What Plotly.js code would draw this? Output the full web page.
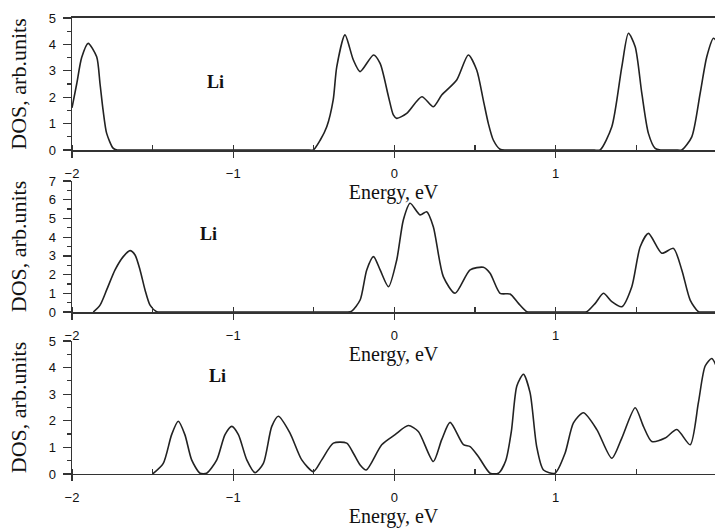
<!DOCTYPE html>
<html>
<head>
<meta charset="utf-8">
<script src="https://cdn.plot.ly/plotly-3.0.1.min.js"></script>
<style>html,body{margin:0;padding:0;background:#fff;}#chart{width:715px;height:529px;}</style>
</head>
<body>
<div id="chart"></div>
<script>
// Panel 1 (top)
const energy1 = [-2.0, -1.971, -1.94, -1.9, -1.847, -1.826, -1.807, -1.785, -1.745, -1.72, -1.68, -1.6, -1.0, -0.6, -0.54, -0.504, -0.46, -0.42, -0.38, -0.358, -0.307, -0.255, -0.213, -0.13, -0.089, -0.037, -0.007, 0.014, 0.076, 0.17, 0.241, 0.293, 0.386, 0.458, 0.51, 0.551, 0.582, 0.613, 0.655, 0.69, 0.75, 1.0, 1.2, 1.24, 1.275, 1.348, 1.41, 1.451, 1.493, 1.534, 1.575, 1.617, 1.65, 1.7, 1.745, 1.782, 1.844, 1.896, 1.937, 1.978, 2.0];
const dos1    = [1.6, 2.5, 3.5, 4.04, 3.53, 2.5, 1.5, 0.63, 0.07, 0, 0, 0, 0, 0, 0, 0, 0.38, 0.88, 1.9, 3.15, 4.36, 3.41, 2.97, 3.6, 3.28, 2.02, 1.33, 1.2, 1.39, 2.02, 1.64, 2.08, 2.65, 3.6, 3.03, 1.89, 1.01, 0.38, 0.03, 0, 0, 0, 0, 0, 0, 0.88, 3.15, 4.42, 3.91, 2.15, 0.63, 0.06, 0, 0, 0, 0, 0.5, 2.15, 3.53, 4.23, 4.1];
// Panel 2 (middle)
const energy2 = [-1.868, -1.826, -1.785, -1.733, -1.682, -1.64, -1.609, -1.578, -1.547, -1.516, -1.475, -1.44, -1.4, -0.8, -0.32, -0.29, -0.265, -0.213, -0.172, -0.13, -0.089, -0.037, 0.014, 0.055, 0.097, 0.159, 0.2, 0.241, 0.303, 0.376, 0.469, 0.551, 0.593, 0.655, 0.717, 0.769, 0.82, 0.85, 0.88, 1.1, 1.15, 1.193, 1.245, 1.296, 1.348, 1.41, 1.472, 1.524, 1.575, 1.658, 1.73, 1.782, 1.834, 1.885, 1.92, 1.96, 2.0];
const dos2    = [0, 0.37, 1.18, 2.25, 2.96, 3.28, 3.05, 2.25, 1.18, 0.37, 0.02, 0, 0, 0, 0, 0, 0.05, 0.64, 2.25, 2.96, 2.25, 1.35, 2.78, 4.92, 5.81, 5.19, 5.36, 4.56, 1.89, 1.0, 2.25, 2.39, 2.07, 1.0, 0.96, 0.46, 0.02, 0, 0, 0, 0, 0.02, 0.46, 1.0, 0.55, 0.28, 1.35, 3.49, 4.2, 3.14, 3.4, 2.25, 0.64, 0.02, 0, 0, 0];
// Panel 3 (bottom)
const energy3 = [-1.5, -1.434, -1.382, -1.341, -1.3, -1.258, -1.206, -1.165, -1.102, -1.051, -1.009, -0.968, -0.916, -0.865, -0.813, -0.761, -0.72, -0.648, -0.575, -0.503, -0.451, -0.379, -0.296, -0.255, -0.213, -0.175, -0.079, 0.004, 0.086, 0.148, 0.241, 0.293, 0.345, 0.428, 0.469, 0.52, 0.593, 0.645, 0.69, 0.725, 0.759, 0.8, 0.841, 0.882, 0.924, 0.996, 1.058, 1.11, 1.172, 1.255, 1.348, 1.41, 1.493, 1.544, 1.596, 1.679, 1.751, 1.834, 1.885, 1.927, 1.968, 2.0];
const dos3    = [0, 0.4, 1.48, 1.98, 1.48, 0.53, 0.03, 0.03, 0.53, 1.48, 1.79, 1.48, 0.53, 0.05, 0.4, 1.79, 2.17, 1.54, 0.53, 0.09, 0.53, 1.16, 1.16, 0.78, 0.34, 0.15, 1.1, 1.48, 1.82, 1.6, 0.47, 1.29, 1.94, 1.1, 1.03, 0.66, 0.03, 0.03, 0.5, 1.6, 3.31, 3.75, 3.06, 1.03, 0.15, 0.03, 0.78, 1.92, 2.3, 1.67, 0.59, 1.35, 2.49, 1.79, 1.22, 1.35, 1.67, 1.1, 2.68, 4.06, 4.34, 4.0];

const panelLabel = 'Li';
const xTitle = 'Energy, eV';
const yTitle = 'DOS, arb.units';

const lineStyle = {color: '#222', width: 1.6, shape: 'spline', smoothing: 0.7};
const traces = [
  {x: energy1, y: dos1, xaxis: 'x', yaxis: 'y'},
  {x: energy2, y: dos2, xaxis: 'x2', yaxis: 'y2'},
  {x: energy3, y: dos3, xaxis: 'x3', yaxis: 'y3'}
].map(t => Object.assign(t, {type: 'scatter', mode: 'lines', line: lineStyle, hoverinfo: 'skip', showlegend: false}));

const tickFont = {family: 'Liberation Sans, Arial, sans-serif', size: 13, color: '#111'};
const titleFont = {family: 'Liberation Serif, Times New Roman, serif', size: 20, color: '#111'};

function xAxis(anchor, mirror) {
  return {
    anchor: anchor, domain: [0, 1], range: [-2, 1.988],
    showline: true, linecolor: '#333', linewidth: 1.5, mirror: mirror,
    ticks: 'outside', ticklen: 6, tickwidth: 1.3, tickcolor: '#333',
    tick0: 0, dtick: 1, ticklabelstandoff: 5,
    minor: {dtick: 0.5, ticks: 'inside', ticklen: 5, tickwidth: 1.2, tickcolor: '#333'},
    showgrid: false, zeroline: false, tickfont: tickFont, automargin: false,
    title: {text: xTitle, font: titleFont, standoff: 1}
  };
}
function yAxis(anchor, domain, range) {
  return {
    anchor: anchor, domain: domain, range: range,
    showline: true, linecolor: '#333', linewidth: 1.5,
    ticks: 'outside', ticklen: 8, tickwidth: 1.3, tickcolor: '#333',
    tick0: 0, dtick: 1, ticklabelstandoff: 4,
    minor: {dtick: 0.5, ticks: 'outside', ticklen: 4, tickwidth: 1.2, tickcolor: '#333'},
    showgrid: false, zeroline: false, tickfont: tickFont, automargin: false,
    title: {text: yTitle, font: {family: titleFont.family, size: 22, color: '#111'}, standoff: 16}
  };
}

const liFont = {family: 'Liberation Serif, Times New Roman, serif', size: 18, color: '#111', weight: 'bold'};
const layout = {
  width: 715, height: 529,
  margin: {l: 72, r: 0, t: 0, b: 0},
  paper_bgcolor: '#fff', plot_bgcolor: '#fff',
  xaxis: xAxis('y', true),
  yaxis: yAxis('x', [0.7164, 0.9660], [0, 5]),
  xaxis2: xAxis('y2', false),
  yaxis2: yAxis('x2', [0.4102, 0.6578], [0, 7]),
  xaxis3: xAxis('y3', false),
  yaxis3: yAxis('x3', [0.1040, 0.3554], [0, 5]),
  annotations: [
    {x: -1.113, y: 2.58, xref: 'x', yref: 'y', text: '<b>' + panelLabel + '</b>', showarrow: false, font: liFont},
    {x: -1.156, y: 4.17, xref: 'x2', yref: 'y2', text: '<b>' + panelLabel + '</b>', showarrow: false, font: liFont},
    {x: -1.10, y: 3.67, xref: 'x3', yref: 'y3', text: '<b>' + panelLabel + '</b>', showarrow: false, font: liFont}
  ]
};

Plotly.newPlot('chart', traces, layout, {displayModeBar: false, staticPlot: true});
</script>
</body>
</html>
